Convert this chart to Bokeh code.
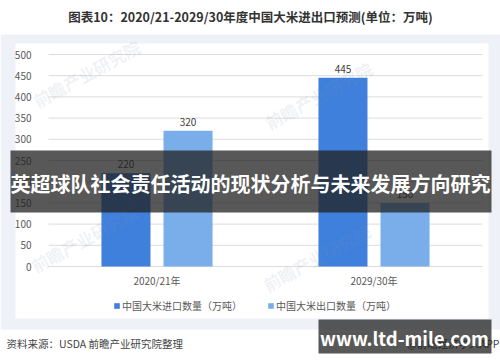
from bokeh.plotting import figure
from bokeh.models import (ColumnDataSource, Range1d, BoxAnnotation, Label,
                          Legend, LegendItem, FixedTicker)
from bokeh.transform import dodge
from bokeh.core.properties import value
from bokeh.embed import file_html
from bokeh.resources import INLINE

# ---- data -------------------------------------------------------------
years = ["2020/21年", "2029/30年"]
imports = [220, 445]          # 中国大米进口数量（万吨）
exports = [320, 150]          # 中国大米出口数量（万吨）
y_ticks = [0, 50, 100, 150, 200, 250, 300, 350, 400, 450, 500]

title_text = "图表10：2020/21-2029/30年度中国大米进出口预测(单位：万吨)"
import_label = "中国大米进口数量（万吨）"
export_label = "中国大米出口数量（万吨）"
source_text = "资料来源：USDA  前瞻产业研究院整理"
credit_text = "@前瞻经济学人APP"
banner_text = "英超球队社会责任活动的现状分析与未来发展方向研究"
site_text = "www.ltd-mile.com"
watermark_text = "前瞻产业研究院"

FONT = "Noto Sans CJK SC"
IMPORT_COLOR = "#3e80dc"
EXPORT_COLOR = "#7aaeea"
W, H = 500, 362

# plot area inside the canvas (pixels): left, width per year, baseline, px per unit
AREA_LEFT, SLOT_W, BASE_Y, PX_PER_UNIT = 48, 217, 266, 0.424

n = len(years)
src = ColumnDataSource(dict(
    idx=list(range(n)),
    year=years,
    imp=imports,
    exp=exports,
    imp_txt=[str(v) for v in imports],
    exp_txt=[str(v) for v in exports],
))
tick_src = ColumnDataSource(dict(tick=y_ticks, lo=[0] * len(y_ticks),
                                 hi=[n] * len(y_ticks)))

p = figure(width=W, height=H,
           x_range=Range1d(-AREA_LEFT / SLOT_W, (W - AREA_LEFT) / SLOT_W),
           y_range=Range1d(-(H - BASE_Y) / PX_PER_UNIT, BASE_Y / PX_PER_UNIT),
           output_backend="svg", toolbar_location=None,
           min_border=0)
p.outline_line_color = None
p.border_fill_color = "#ffffff"
p.background_fill_color = "#ffffff"

# ---- panels behind the chart --------------------------------------------
p.add_layout(BoxAnnotation(left=0, right=W, top=34, bottom=329,
                           left_units="canvas", right_units="canvas",
                           top_units="canvas", bottom_units="canvas",
                           fill_color="#eef2f8", fill_alpha=1, line_color=None,
                           level="underlay"))
p.add_layout(BoxAnnotation(left=15, right=488, top=43, bottom=318,
                           left_units="canvas", right_units="canvas",
                           top_units="canvas", bottom_units="canvas",
                           fill_color="#ffffff", fill_alpha=1, line_color=None,
                           level="underlay"))

# ---- horizontal grid lines (the 0 line doubles as the baseline) -----------
p.segment(x0="lo", x1="hi", y0="tick", y1="tick", source=tick_src,
          line_color="#dcdcdc", line_width=1)

# ---- bars -----------------------------------------------------------------
r_imp = p.vbar(x=dodge("idx", 0.5 - 0.143), top="imp", width=0.226,
               source=src, fill_color=IMPORT_COLOR, line_color=None)
r_exp = p.vbar(x=dodge("idx", 0.5 + 0.143), top="exp", width=0.226,
               source=src, fill_color=EXPORT_COLOR, line_color=None)

for field, txt, off in (("imp", "imp_txt", -0.143), ("exp", "exp_txt", 0.143)):
    p.text(x=dodge("idx", 0.5 + off), y=field, text=txt, source=src,
           text_align="center", text_baseline="bottom", y_offset=-5,
           text_font=value(FONT), text_font_size="10px", text_color="#404040")

# year labels under each group
p.text(x=dodge("idx", 0.5), y=0, text="year", source=src,
       text_align="center", text_baseline="middle", y_offset=14,
       text_font=value(FONT), text_font_size="10px", text_color="#595959")

# ---- y axis ---------------------------------------------------------------
p.yaxis.fixed_location = 0
p.yaxis.ticker = FixedTicker(ticks=y_ticks)
p.yaxis.axis_line_color = None
p.yaxis.major_tick_line_color = None
p.yaxis.minor_tick_line_color = None
p.yaxis.major_label_standoff = 11
p.yaxis.major_label_text_font = FONT
p.yaxis.major_label_text_font_size = "10px"
p.yaxis.major_label_text_color = "#595959"

p.xaxis.visible = False
p.xgrid.grid_line_color = None
p.ygrid.grid_line_color = None

# ---- faint watermarks -------------------------------------------------------
for wx, wy in ((86, 73), (318, 95), (84, 238), (316, 257)):
    p.add_layout(Label(x=wx, y=wy, x_units="canvas", y_units="canvas",
                       text=watermark_text, text_align="center",
                       text_baseline="middle", angle=0.5,
                       text_font=FONT, text_font_size="17px",
                       text_font_style="bold",
                       text_color="#7f93ad", text_alpha=0.13))

# ---- legend ---------------------------------------------------------------
legend = Legend(items=[LegendItem(label=import_label, renderers=[r_imp]),
                       LegendItem(label=export_label, renderers=[r_exp])],
                orientation="horizontal", location=(113, H - 313),
                padding=0, margin=0, spacing=25, label_standoff=2,
                glyph_width=7, glyph_height=7, label_height=12,
                label_text_font=FONT, label_text_font_size="10px",
                label_text_color="#595959",
                background_fill_alpha=0, border_line_color=None)
p.add_layout(legend)

# ---- title and footer -----------------------------------------------------
p.add_layout(Label(x=250, y=16, x_units="canvas", y_units="canvas",
                   text=title_text, text_align="center", text_baseline="middle",
                   text_font=FONT, text_font_size="12.5px", text_font_style="bold",
                   text_color="#333333"))
p.add_layout(Label(x=6, y=343, x_units="canvas", y_units="canvas",
                   text=source_text, text_align="left", text_baseline="middle",
                   text_font=FONT, text_font_size="10.5px", text_color="#444444"))
p.add_layout(Label(x=499, y=343, x_units="canvas", y_units="canvas",
                   text=credit_text, text_align="right", text_baseline="middle",
                   text_font=FONT, text_font_size="10.5px", text_color="#444444"))

# ---- overlay banners --------------------------------------------------------
p.add_layout(BoxAnnotation(left=10, right=491, top=150, bottom=212,
                           left_units="canvas", right_units="canvas",
                           top_units="canvas", bottom_units="canvas",
                           fill_color="#202020", fill_alpha=0.75, line_color=None,
                           level="overlay"))
p.add_layout(Label(x=250, y=183, x_units="canvas", y_units="canvas",
                   text=banner_text, text_align="center", text_baseline="middle",
                   text_font=FONT, text_font_size="20px", text_font_style="bold",
                   text_color="#ffffff", level="overlay"))
p.add_layout(BoxAnnotation(left=318, right=491, top=319, bottom=353,
                           left_units="canvas", right_units="canvas",
                           top_units="canvas", bottom_units="canvas",
                           fill_color="#202020", fill_alpha=0.75, line_color=None,
                           level="overlay"))
p.add_layout(Label(x=404, y=337, x_units="canvas", y_units="canvas",
                   text=site_text, text_align="center", text_baseline="middle",
                   text_font=FONT, text_font_size="18.5px", text_font_style="bold",
                   text_color="#ffffff", level="overlay"))

open("out.html", "w").write(file_html(p, INLINE))
